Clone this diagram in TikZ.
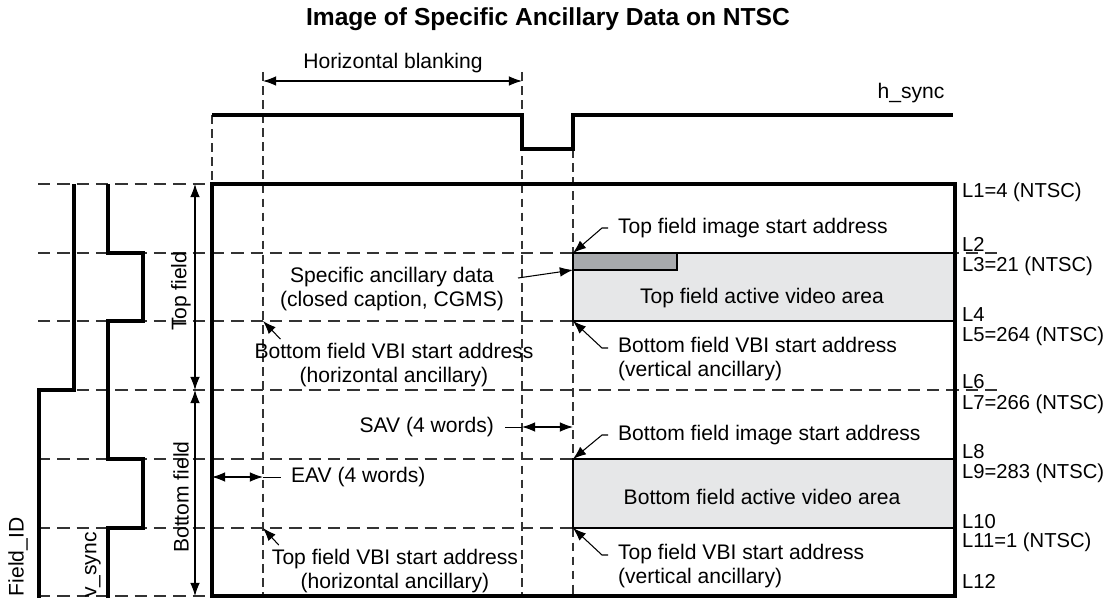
\documentclass[tikz,border=0pt]{standalone}
\usepackage{fontspec}
\setmainfont{Liberation Sans}
\usetikzlibrary{arrows.meta}
\definecolor{areagray}{HTML}{E6E7E8}
\definecolor{ancgray}{HTML}{A7A9AC}
\tikzset{
  wave/.style={line width=1.8pt},
  guide/.style={line width=0.6pt, black!80, dash pattern=on 7pt off 4pt},
  vguide/.style={line width=0.6pt, black!80, dash pattern=on 5pt off 3pt},
  dim/.style={{Latex[length=7.5pt,width=5.5pt]}-{Latex[length=7.5pt,width=5.5pt]}, line width=0.6pt},
  lead/.style={-{Latex[length=7.5pt,width=5.5pt]}, line width=0.6pt},
  txt/.style={font=\fontsize{12}{13.6}\selectfont, inner sep=1pt, align=center},
  lnum/.style={txt, font=\fontsize{11.5}{13}\selectfont, anchor=west, text height=8.3pt, text depth=0pt},
}
\begin{document}
\begin{tikzpicture}[x=0.02cm, y=-0.02cm]
\useasboundingbox (0,0) rectangle (1120,598);

\node[font=\fontsize{14}{16}\selectfont\bfseries] (title) at (548,19) {Image of Specific Ancillary Data on NTSC};

% guides
\foreach \y/\e in {184/212, 253/1000, 321/955, 390/1003, 459/955, 528/955, 596/212}
{
	\draw[guide] (38,\y) -- (\e,\y);
}
\draw[vguide] (212,115) -- (212,184);
\draw[vguide] (263,72) -- (263,596);
\draw[vguide] (522,72) -- (522,596);
\draw[vguide] (573,149) -- (573,596);

% active areas
\draw[line width=1.2pt, fill=areagray] (573,253) rectangle (955,321);
\draw[line width=0.8pt, fill=ancgray] (573,253) rectangle (677,270);
\draw[line width=1.2pt, fill=areagray] (573,459) rectangle (955,528);
\draw[wave] (212,184) rectangle (955,596);

% waveforms
\draw[wave] (212,115) -- (522,115) -- (522,149) -- (573,149) -- (573,115) -- (953,115);
\draw[wave] (74,184) -- (74,390) -- (39,390) -- (39,600);
\draw[wave] (108,184) -- (108,253) -- (143,253) -- (143,321) -- (108,321) -- (108,459)
	-- (143,459) -- (143,528) -- (108,528) -- (108,600);

\node[txt] (hsync) at (911,93) {h\_sync};
\node[txt, rotate=90] (fid) at (18,557) {Field\_ID};
\node[txt, rotate=90, anchor=east, inner sep=0pt] (vsync) at (93,532) {v\_sync};

% line numbers
\foreach \y/\t in {190/{L1=4 (NTSC)}, 244/L2, 264/{L3=21 (NTSC)}, 314/L4, 334/{L5=264 (NTSC)},
	381/L6, 402/{L7=266 (NTSC)}, 451/L8, 471/{L9=283 (NTSC)}, 521/L10, 540/{L11=1 (NTSC)}, 581/L12}
{
	\node[lnum] (lab\y) at (960,\y) {\t};
}

% dimensions
\coordinate (hbL) at (263,81);
\coordinate (hbR) at (522,81);
\node[txt] (hblank) at (393,63) {Horizontal blanking};
\draw[dim] (hbL) -- (hbR);

\coordinate (fTop) at (195,184);
\coordinate (fMid) at (195,390);
\coordinate (fBot) at (195,596);
\draw[dim] (fTop) -- (fMid);
\draw[dim] (fMid) -- (fBot);
\node[txt, rotate=90] (topf) at (181,291) {Top field};
\node[txt, rotate=90] (botf) at (181,497) {Bottom field};

\coordinate (savL) at (522,427);
\coordinate (savR) at (573,427);
\node[txt, anchor=east] (sav) at (496,427) {SAV (4 words)};
\draw (sav.east) ++(9,0) -- (savL);
\draw[dim] (savL) -- (savR);

\coordinate (eavL) at (212,477);
\coordinate (eavR) at (263,477);
\node[txt, anchor=west] (eav) at (289,477) {EAV (4 words)};
\draw[dim] (eavL) -- (eavR);
\draw (eavR) -- ([xshift=-0.16cm]eav.west);

% areas
\node[txt] (toparea) at (762,298) {Top field active video area};
\node[txt] (botarea) at (762,497) {Bottom field active video area};

% addresses
\coordinate (ancTip) at (573,270);
\node[txt] (spec) at (392,289) {Specific ancillary data\\(closed caption, CGMS)};
\draw[lead] (spec.east) ++(12,-11) -- (ancTip);

\coordinate (bvbiHTip) at (263,321);
\node[txt] (bvbiH) at (394,365) {Bottom field VBI start address\\(horizontal ancillary)};
\draw[lead] (bvbiH.north west) ++(28,-2) -- (bvbiHTip);

\coordinate (tvbiHTip) at (263,528);
\node[txt] (tvbiH) at (395,571) {Top field VBI start address\\(horizontal ancillary)};
\draw[lead] (tvbiH.north west) ++(9,-2) -- (tvbiHTip);

\coordinate (tisaTip) at (573,253);
\node[txt, anchor=west] (tisa) at (616,228) {Top field image start address};
\draw[lead] (tisa.west) ++(-8,0) -- ++(-6,0) -- (tisaTip);

\coordinate (bvbiVTip) at (573,321);
\node[txt, anchor=west, align=left] (bvbiV) at (616,359) {Bottom field VBI start address\\(vertical ancillary)};
\draw[lead] (bvbiV.west) ++(-8,-11) -- ++(-6,0) -- (bvbiVTip);

\coordinate (bisaTip) at (573,459);
\node[txt, anchor=west] (bisa) at (616,435) {Bottom field image start address};
\draw[lead] (bisa.west) ++(-8,0) -- ++(-6,0) -- (bisaTip);

\coordinate (tvbiVTip) at (573,528);
\node[txt, anchor=west, align=left] (tvbiV) at (616,566) {Top field VBI start address\\(vertical ancillary)};
\draw[lead] (tvbiV.west) ++(-8,-11) -- ++(-6,0) -- (tvbiVTip);
\end{tikzpicture}
\end{document}
